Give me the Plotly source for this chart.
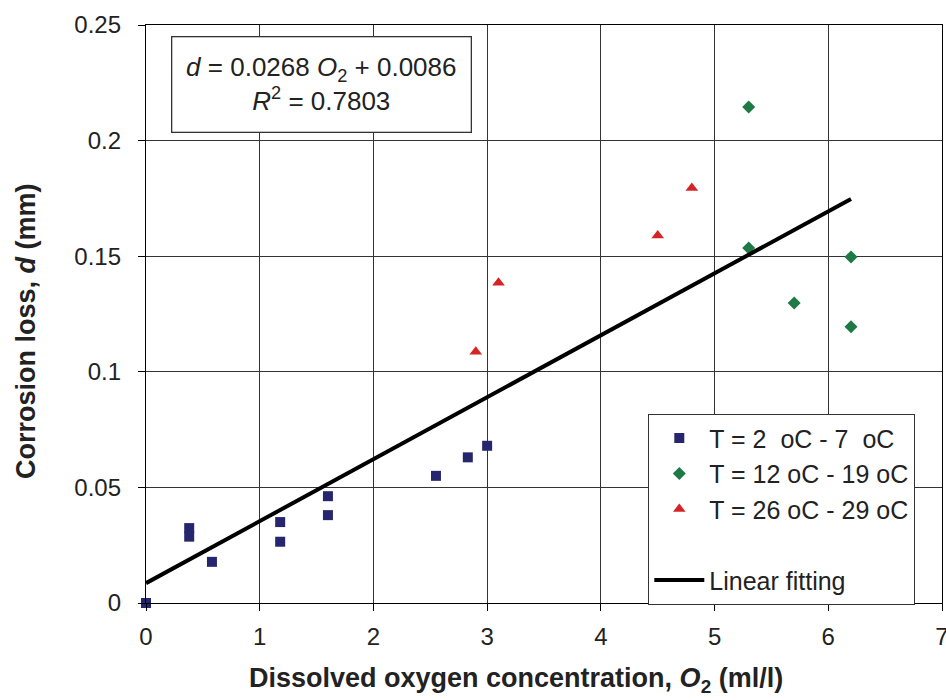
import plotly.graph_objects as go

# Measured corrosion loss vs dissolved oxygen, grouped by water temperature
cold_o2 = [0.0, 0.38, 0.38, 0.58, 1.18, 1.18, 1.6, 1.6, 2.55, 2.83, 3.0]
cold_d = [0.0, 0.0324, 0.0287, 0.0178, 0.035, 0.0265, 0.0462, 0.038, 0.055, 0.063, 0.068]

mid_o2 = [5.3, 5.3, 6.2, 5.7, 6.2]
mid_d = [0.2145, 0.1535, 0.1497, 0.1298, 0.1195]

warm_o2 = [2.9, 3.1, 4.5, 4.8]
warm_d = [0.1087, 0.1385, 0.159, 0.1795]

# Linear regression d = a*O2 + b
fit_slope = 0.0268
fit_intercept = 0.0086
fit_r2 = 0.7803
fit_range = [0.0, 6.2]
fit_d = [fit_slope * x + fit_intercept for x in fit_range]

x_ticks = [0, 1, 2, 3, 4, 5, 6, 7]
y_ticks = [0, 0.05, 0.1, 0.15, 0.2, 0.25]
y_tick_text = ["0", "0.05", "0.1", "0.15", "0.2", "0.25"]

FONT = "Liberation Sans, Arial, sans-serif"
GRID = "#333333"
TXT = "#222222"

W, H = 946, 700
ML, MR, MT, MB = 146, 4, 25, 97

fig = go.Figure()

fig.add_trace(go.Scatter(
    x=cold_o2, y=cold_d, mode="markers", name="T = 2  oC - 7  oC",
    marker=dict(symbol="square", size=10, color="#26266e"),
    legendgroup="a", legendrank=1, cliponaxis=False,
))
fig.add_trace(go.Scatter(
    x=mid_o2, y=mid_d, mode="markers", name="T = 12 oC - 19 oC",
    marker=dict(symbol="diamond", size=10, color="#1d7a45"),
    legendgroup="b", legendrank=2,
))
fig.add_trace(go.Scatter(
    x=warm_o2, y=warm_d, mode="markers", name="T = 26 oC - 29 oC",
    marker=dict(symbol="triangle-up", size=11, color="#d42424"),
    legendgroup="c", legendrank=3,
))
# empty row separating the fitted line from the data series in the legend
fig.add_trace(go.Scatter(
    x=[None], y=[None], mode="markers", name=" ",
    marker=dict(size=1, color="rgba(0,0,0,0)"),
    legendgroup="d", legendrank=4,
))
fig.add_trace(go.Scatter(
    x=fit_range, y=fit_d, mode="lines", name="Linear fitting",
    line=dict(color="black", width=4),
    legendgroup="e", legendrank=5,
))

fig.update_xaxes(
    range=[0, 7], tickvals=x_ticks, showgrid=True, gridcolor=GRID, gridwidth=1.3,
    showline=True, linecolor="black", linewidth=1.3, mirror=True,
    ticks="outside", ticklen=7, tickcolor="black", tickwidth=1.3,
    tickfont=dict(size=24, color=TXT, family=FONT), zeroline=False,
    ticklabelstandoff=5, ticklabeloverflow="allow", automargin=False,
)
fig.update_yaxes(
    range=[0, 0.25], tickvals=y_ticks, ticktext=y_tick_text, showgrid=True,
    gridcolor=GRID, gridwidth=1.3,
    showline=True, linecolor="black", linewidth=1.3, mirror=True,
    ticks="outside", ticklen=7, tickcolor="black", tickwidth=1.3,
    tickfont=dict(size=24, color=TXT, family=FONT), zeroline=False,
    ticklabelstandoff=12, automargin=False,
)


def px_to_paper(px, py):
    """Convert a pixel position on the page to paper coordinates."""
    return (px - ML) / (W - ML - MR), (H - MB - py) / (H - MT - MB)


# axis titles
xt_x, xt_y = px_to_paper(516, 680)
fig.add_annotation(
    x=xt_x, y=xt_y, xref="paper", yref="paper", xanchor="center", yanchor="middle",
    text="<b>Dissolved oxygen concentration, <i>O</i><sub>2</sub> (ml/l)</b>",
    showarrow=False, font=dict(size=27, color=TXT, family=FONT),
)
yt_x, yt_y = px_to_paper(26, 331)
fig.add_annotation(
    x=yt_x, y=yt_y, xref="paper", yref="paper", xanchor="center", yanchor="middle",
    text="<b>Corrosion loss, <i>d</i> (mm)</b>", textangle=-90,
    showarrow=False, font=dict(size=27, color=TXT, family=FONT),
)

eq_text = (f"<i>d</i> = {fit_slope} <i>O</i><sub>2</sub> + {fit_intercept}<br>"
           f"<i>R</i><sup>2</sup> = {fit_r2}")
fig.add_annotation(
    x=1.54, y=0.2243, xref="x", yref="y", text=eq_text, showarrow=False,
    font=dict(size=26, color=TXT, family=FONT), align="center",
    bordercolor="#333", borderwidth=1.3, borderpad=6, bgcolor="white",
    width=286, height=82,
)

lg_x, lg_y = px_to_paper(648, 414)
fig.update_layout(
    width=W, height=H,
    margin=dict(l=ML, r=MR, t=MT, b=MB),
    plot_bgcolor="white", paper_bgcolor="white",
    font=dict(family=FONT, color=TXT),
    legend=dict(
        x=lg_x, y=lg_y, xanchor="left", yanchor="top",
        bgcolor="white", bordercolor="#333", borderwidth=1.3,
        font=dict(size=25, color=TXT, family=FONT),
        tracegroupgap=0, itemwidth=50,
    ),
)

fig.write_html("out.html")
